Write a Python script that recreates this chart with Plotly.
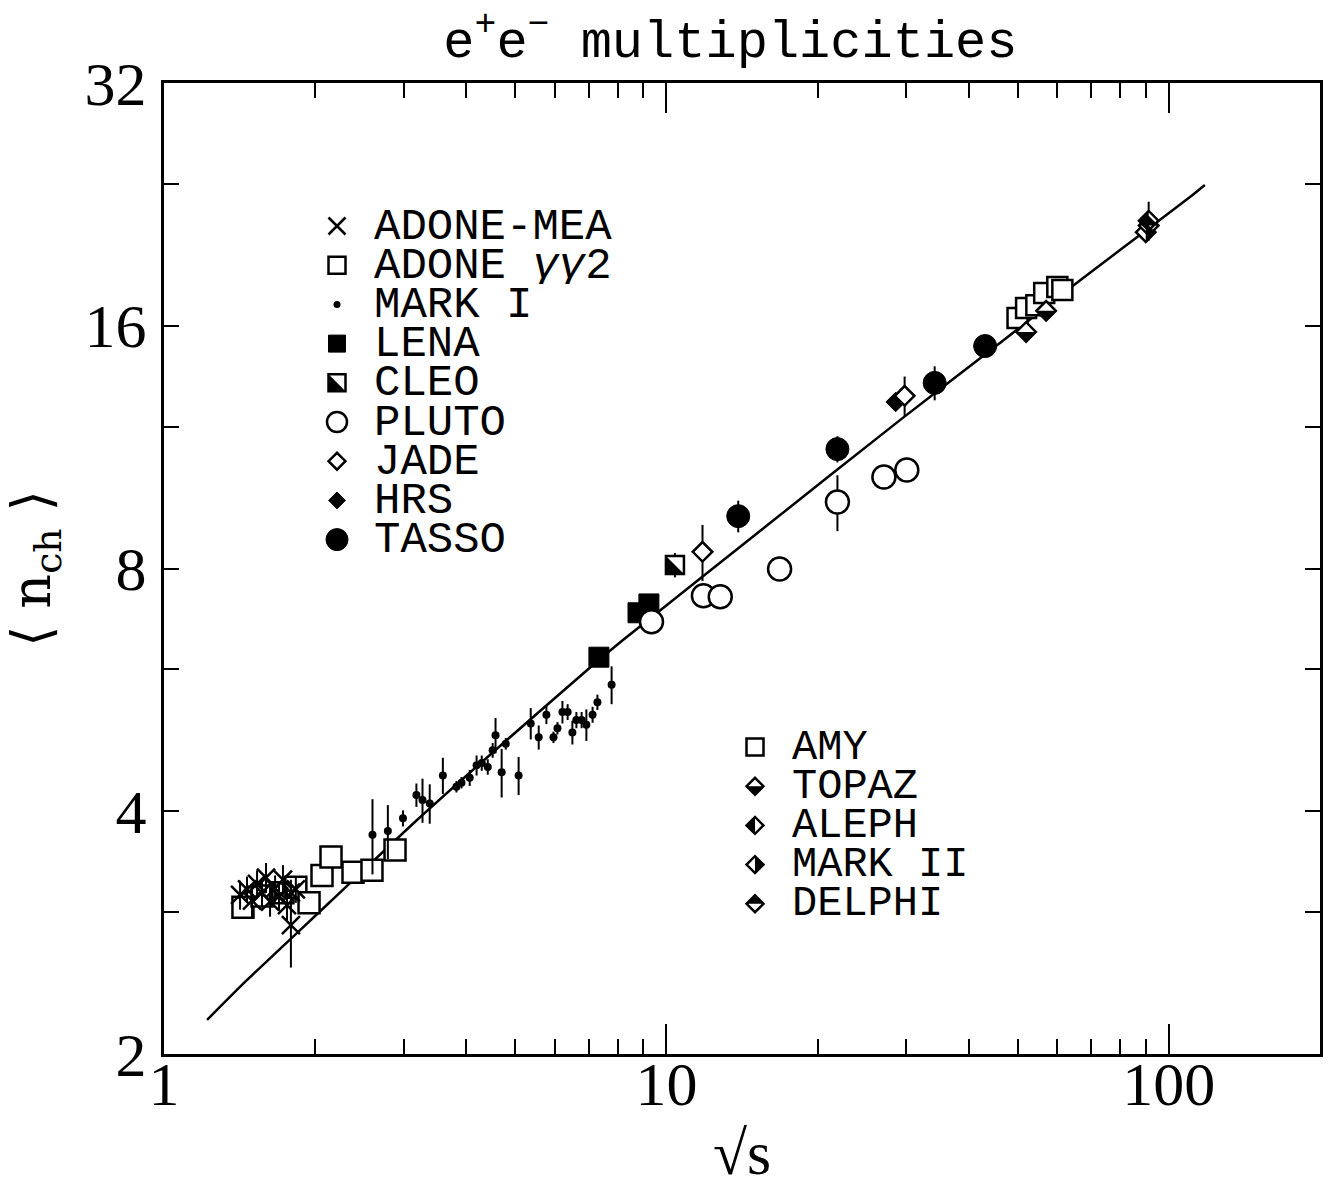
import math
import plotly.graph_objects as go

# ---------------------------------------------------------------- data
# centre-of-mass energy sqrt(s) [GeV] and mean charged multiplicity <n_ch>

mea_rs = [1.417, 1.463, 1.497, 1.532, 1.567, 1.596, 1.626, 1.664, 1.694, 1.725, 1.757, 1.789, 1.789, 1.830]
mea_n = [3.15, 3.20, 3.10, 3.25, 3.17, 3.31, 3.09, 3.21, 3.14, 3.29, 3.06, 3.17, 2.89, 3.20]
mea_err = [0.13, 0.12, 0.14, 0.13, 0.12, 0.14, 0.13, 0.12, 0.13, 0.14, 0.13, 0.12, 0.33, 0.12]

gg2_rs = [1.436, 1.567, 1.725, 1.830, 1.944, 2.063, 2.150, 2.378, 2.594, 2.883]
gg2_n = [3.04, 3.14, 3.17, 3.22, 3.08, 3.33, 3.51, 3.36, 3.38, 3.58]
gg2_err = [0.06, 0.06, 0.06, 0.06, 0.06, 0.06, 0.06, 0.06, 0.06, 0.06]

mark1_rs = [2.60, 2.79, 2.99, 3.18, 3.27, 3.38, 3.59, 3.82, 3.91, 4.06, 4.19, 4.29, 4.41, 4.51,
            4.57, 4.70, 4.79, 5.08, 5.37, 5.57, 5.77, 5.96, 6.07, 6.21, 6.36, 6.50, 6.62, 6.78,
            6.93, 7.13, 7.29, 7.78]
mark1_n = [3.74, 3.78, 3.92, 4.19, 4.13, 4.09, 4.43, 4.29, 4.34, 4.40, 4.56, 4.59, 4.54, 4.76,
           4.97, 4.47, 4.85, 4.43, 5.14, 4.94, 5.27, 4.94, 5.07, 5.31, 5.31, 5.01, 5.19, 5.19,
           5.12, 5.27, 5.46, 5.74]
mark1_err = [0.40, 0.29, 0.09, 0.14, 0.26, 0.23, 0.23, 0.07, 0.07, 0.10, 0.13, 0.10, 0.10, 0.10,
             0.25, 0.31, 0.08, 0.24, 0.23, 0.17, 0.14, 0.08, 0.09, 0.17, 0.12, 0.17, 0.12, 0.12,
             0.23, 0.12, 0.12, 0.31]

lena_rs = [7.34, 8.78, 9.23]
lena_n = [6.21, 7.05, 7.23]

cleo_rs = [10.4]
cleo_n = [8.08]
cleo_err = [0.28]

pluto_rs = [9.34, 11.85, 12.8, 16.8, 21.9, 27.1, 30.1]
pluto_n = [6.87, 7.40, 7.38, 7.99, 9.67, 10.39, 10.60]
pluto_err = [0.10, 0.10, 0.10, 0.10, 0.77, 0.10, 0.10]

tasso_rs = [13.9, 21.9, 34.2, 43.1]
tasso_n = [9.29, 11.25, 13.59, 15.10]
tasso_err = [0.42, 0.42, 0.66, 0.30]

hrs_rs = [28.6]
hrs_n = [12.87]

jade_rs = [11.8, 29.8]
jade_n = [8.39, 13.10]
jade_err = [0.67, 0.74]

amy_rs = [50.0, 52.0, 54.5, 56.5, 60.0, 61.4]
amy_n = [16.36, 16.83, 16.97, 17.57, 17.87, 17.72]

topaz_rs = [52.0, 57.0]
topaz_n = [15.72, 16.70]

aleph_rs = [91.2]
aleph_n = [21.6]
aleph_err = [1.2]

delphi_rs = [91.2]
delphi_n = [21.3]

mark2_rs = [90.0]
mark2_n = [20.9]

# QCD expectation curve
fit_rs = [1.218, 1.443, 2.140, 3.189, 4.666, 7.143, 8.197, 15.36, 29.17, 46.13, 63.6, 79.97, 110.2, 118.0]
fit_n = [2.204, 2.450, 3.087, 3.901, 4.820, 6.073, 6.524, 8.905, 12.22, 15.23, 17.82, 19.86, 23.11, 23.92]

# axis ticks
x_major = [1, 10, 100]
x_minor = [2, 3, 4, 5, 6, 7, 8, 9, 20, 30, 40, 50, 60, 70, 80, 90]
y_major = [2, 4, 8, 16, 32]
y_minor = [3, 6, 12, 24]

legend_left = ["ADONE-MEA", "ADONE <i>γγ</i>2", "MARK I", "LENA", "CLEO", "PLUTO", "JADE", "HRS", "TASSO"]
legend_right = ["AMY", "TOPAZ", "ALEPH", "MARK II", "DELPHI"]

# ---------------------------------------------------------------- styles
W, H = 1337, 1187
ML, MR, MT, MB = 164, 17, 83, 133
PW, PH = W - ML - MR, H - MT - MB

SERIF = "Liberation Serif, DejaVu Serif, serif"
MONO = "Liberation Mono, DejaVu Sans Mono, monospace"

# symbol, size, fill colour, outline width
STYLE = {
    "ADONE-MEA": ("x-thin-open", 18, "black", 2.5),
    "ADONE <i>γγ</i>2": ("square", 21, "white", 2.5),
    "MARK I": ("circle", 8, "black", 0),
    "LENA": ("square", 20, "black", 1),
    "CLEO": ("square", 18, "white", 2.5),
    "PLUTO": ("circle", 23, "white", 2.5),
    "JADE": ("diamond", 15, "white", 2.5),
    "HRS": ("diamond", 15, "black", 1),
    "TASSO": ("circle", 23, "black", 1),
    "AMY": ("square", 20, "white", 2.5),
    "TOPAZ": ("diamond", 15, "white", 2.5),
    "ALEPH": ("diamond", 15, "white", 2.5),
    "MARK II": ("diamond", 15, "white", 2.5),
    "DELPHI": ("diamond", 15, "white", 2.5),
}
KEY_SIZE = {"ADONE-MEA": 17, "ADONE <i>γγ</i>2": 17, "MARK I": 7, "LENA": 17, "CLEO": 17,
            "PLUTO": 20, "JADE": 13, "HRS": 13, "TASSO": 22, "AMY": 17, "TOPAZ": 13,
            "ALEPH": 13, "MARK II": 13, "DELPHI": 13}

# black half of the half-filled symbols, in units of the symbol half-width
HALF = {
    "CLEO": [(-1, 1), (-1, -1), (1, -1)],
    "TOPAZ": [(-1, 0), (1, 0), (0, -1)],
    "ALEPH": [(0, 1), (-1, 0), (0, -1)],
    "MARK II": [(0, 1), (1, 0), (0, -1)],
    "DELPHI": [(-1, 0), (1, 0), (0, 1)],
}


def half_radius(name, size):
    sym = STYLE[name][0]
    return size / 2 * (1.3 if sym.startswith("diamond") else 1.0)


def half_path(name, r):
    return "M " + " L ".join(f"{r * a:.2f},{r * b:.2f}" for a, b in HALF[name]) + " Z"


fig = go.Figure()

fig.add_trace(go.Scatter(x=fit_rs, y=fit_n, mode="lines",
                         line=dict(color="black", width=2.5, shape="spline", smoothing=0.6),
                         showlegend=False, hoverinfo="skip"))

series = [
    ("ADONE <i>γγ</i>2", gg2_rs, gg2_n, gg2_err),
    ("ADONE-MEA", mea_rs, mea_n, mea_err),
    ("MARK I", mark1_rs, mark1_n, mark1_err),
    ("LENA", lena_rs, lena_n, None),
    ("CLEO", cleo_rs, cleo_n, cleo_err),
    ("PLUTO", pluto_rs, pluto_n, pluto_err),
    ("TASSO", tasso_rs, tasso_n, tasso_err),
    ("HRS", hrs_rs, hrs_n, None),
    ("JADE", jade_rs, jade_n, jade_err),
    ("AMY", amy_rs, amy_n, None),
    ("TOPAZ", topaz_rs, topaz_n, None),
    ("MARK II", mark2_rs, mark2_n, None),
    ("DELPHI", delphi_rs, delphi_n, None),
    ("ALEPH", aleph_rs, aleph_n, aleph_err),
]

shapes = []
for name, xs, ys, err in series:
    sym, size, fill, lw = STYLE[name]
    tr = dict(x=xs, y=ys, mode="markers", showlegend=False, hoverinfo="skip",
              marker=dict(symbol=sym, size=size, color="black" if sym.startswith("x") else fill,
                          line=dict(color="black", width=lw)))
    if err is not None:
        tr["error_y"] = dict(type="data", array=err, visible=True, color="black", thickness=2, width=0)
    fig.add_trace(go.Scatter(**tr))
    if name in HALF:
        r = half_radius(name, size)
        for xv, yv in zip(xs, ys):
            shapes.append(dict(type="path", xref="x", yref="y", xsizemode="pixel", ysizemode="pixel",
                               xanchor=xv, yanchor=yv, path=half_path(name, r),
                               fillcolor="black", line=dict(width=0)))

# ---------------------------------------------------------------- key boxes
def px_to_paper(px, py):
    return (px - ML) / PW, (MT + PH - py) / PH

ROW = 39.2
# names, key centre x, text left x, first row y, font size
groups = [(legend_left, 337, 372, 226, 44), (legend_right, 755, 790, 747, 42)]
annotations = []
for names, key_px, text_px, top_py, fsize in groups:
    for i, name in enumerate(names):
        py = top_py + i * ROW
        kx, ky = px_to_paper(key_px, py)
        tx, _ = px_to_paper(text_px, py)
        sym, _, fill, lw = STYLE[name]
        ks = KEY_SIZE[name]
        fig.add_trace(go.Scatter(
            x=[kx], y=[ky], xaxis="x2", yaxis="y2", mode="markers", showlegend=False, hoverinfo="skip",
            marker=dict(symbol=sym, size=ks, color="black" if sym.startswith("x") else fill,
                        line=dict(color="black", width=lw))))
        if name in HALF:
            shapes.append(dict(type="path", xref="paper", yref="paper", xsizemode="pixel", ysizemode="pixel",
                               xanchor=kx, yanchor=ky, path=half_path(name, half_radius(name, ks)),
                               fillcolor="black", line=dict(width=0)))
        annotations.append(dict(x=tx, y=ky, xref="paper", yref="paper", text=name, showarrow=False,
                                xanchor="left", yanchor="middle", height=37, valign="middle",
                                font=dict(family=MONO, size=fsize, color="black")))

# ---------------------------------------------------------------- axes
axis_common = dict(showline=True, linewidth=3, linecolor="black", mirror="ticks", showgrid=False,
                   zeroline=False, ticks="inside", tickwidth=2, tickcolor="black",
                   tickfont=dict(family=SERIF, size=62, color="black"))

fig.update_layout(
    width=W, height=H,
    margin=dict(l=ML, r=MR, t=MT, b=MB, autoexpand=False),
    paper_bgcolor="white", plot_bgcolor="white",
    title=dict(text="e<sup>+</sup>e<sup>−</sup> multiplicities", x=0.49, xref="paper",
               y=1 - 39 / H, yanchor="middle", xanchor="center",
               font=dict(family=MONO, size=52, color="black")),
    xaxis=dict(type="log", range=[0, math.log10(200)], tickvals=x_major, ticktext=[str(v) for v in x_major],
               ticklen=30, ticklabelstandoff=-26,
               minor=dict(tickvals=x_minor, ticks="inside", ticklen=15, tickwidth=2, tickcolor="black",
                          showgrid=False),
               title=dict(text="√s", standoff=30, font=dict(family=SERIF, size=62, color="black")),
               **axis_common),
    yaxis=dict(type="log", range=[math.log10(2), math.log10(32)], tickvals=y_major,
               ticktext=[str(v) for v in y_major], ticklen=15, ticklabelstandoff=2,
               minor=dict(tickvals=y_minor, ticks="inside", ticklen=15, tickwidth=2, tickcolor="black",
                          showgrid=False),
               title=dict(text="⟨ n<sub>ch</sub> ⟩", standoff=24,
                          font=dict(family="DejaVu Serif, serif", size=54, color="black")),
               **axis_common),
    xaxis2=dict(overlaying="x", range=[0, 1], visible=False, fixedrange=True),
    yaxis2=dict(overlaying="y", range=[0, 1], visible=False, fixedrange=True),
    shapes=shapes,
    annotations=annotations,
    showlegend=False,
)

fig.write_html("out.html")
